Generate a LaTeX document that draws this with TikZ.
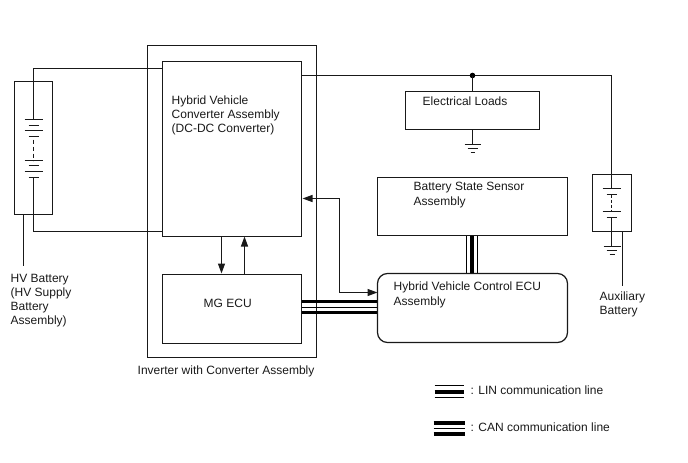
\documentclass[tikz,border=0pt]{standalone}
\usepackage{fontspec}
\setmainfont{Liberation Sans}
\usetikzlibrary{arrows.meta}
\tikzset{
  x=1pt,y=-1pt,
  wire/.style={line width=1.2pt,draw=black!90},
  box/.style={line width=1.2pt,draw=black!90},
  sig/.style={line width=1.2pt,draw=black!90},
  arr/.style={sig,-{Triangle[length=10pt,width=7pt]}},
  biarr/.style={sig,{Triangle[length=10pt,width=7pt]}-{Triangle[length=10pt,width=7pt]}},
  lbl/.style={anchor=base west,inner sep=0pt,font=\fontsize{12pt}{14pt}\selectfont,text=black!90},
  thinl/.style={line width=1.2pt,draw=black},
  thickl/.style={line width=3pt,draw=black},
  widel/.style={line width=4pt,draw=black},
  plate/.style={line width=1.1pt,draw=black!90},
}
\begin{document}
\begin{tikzpicture}
\useasboundingbox (-0.5,-0.5) rectangle (687.5,462.5);
% enclosures
\coordinate (outerA) at (147,45); \coordinate (outerB) at (316,357);
\draw[box] (outerA) rectangle (outerB);
\coordinate (conA) at (162,61); \coordinate (conB) at (301,236);
\coordinate (mgA) at (162,274); \coordinate (mgB) at (301,343);
\coordinate (hvA) at (14,81); \coordinate (hvB) at (52,214);
\coordinate (loadA) at (405,91); \coordinate (loadB) at (539,129);
\coordinate (sensA) at (377,177); \coordinate (sensB) at (567,235);
\coordinate (ecuA) at (377,273); \coordinate (ecuB) at (567,342);
\coordinate (auxA) at (592,174); \coordinate (auxB) at (631,231);

% thick communication bundles
\draw[thickl] (301,301) coordinate (canA) -- (377,301);
\draw[thinl] (301,307) -- (377,307);
\draw[thickl] (301,312) -- (377,312);
\draw[thinl] (466,235) -- (466,273);
\draw[widel] (471.5,235) -- (471.5,273);
\draw[thinl] (477,235) -- (477,273);

\draw[box] (conA) rectangle (conB);
\draw[box] (mgA) rectangle (mgB);
\draw[box] (hvA) rectangle (hvB);
\draw[box] (loadA) rectangle (loadB);
\draw[box] (sensA) rectangle (sensB);
\draw[box,rounded corners=10pt] (ecuA) rectangle (ecuB);
\draw[box] (auxA) rectangle (auxB);

% HV battery wiring and cell stack
\draw[wire] (162,68) -- (33,68) -- (33,119);
\draw[wire] (162,231) -- (33,231) -- (33,177);
\foreach \y in {119,130,160,171} \draw[plate] (24,\y) -- (42,\y);
\foreach \y in {125,136,165,177} \draw[plate] (28,\y) -- (38,\y);
\draw[plate,dash pattern=on 4pt off 3pt] (33,139) -- (33,160);
\draw[wire] (23,214) -- (23,265);

% 12 V bus
\draw[wire] (301,75) -- (611,75) -- (611,188);
\fill[black] (472,75) coordinate (busdot) circle (2.8pt);
\draw[wire] (busdot) -- (472,91);
\draw[wire] (472,129) -- (472,144);
\draw[plate] (464,144) -- (480,144) (467,148) -- (477,148) (470,152) -- (474,152);

% auxiliary battery
\draw[plate] (602,188) -- (620,188) (606,194) -- (616,194);
\draw[plate,dash pattern=on 3pt off 2pt] (611,194) -- (611,211);
\draw[plate] (602,211) -- (620,211) (606,217) -- (616,217);
\draw[wire] (611,217) -- (611,246);
\draw[plate] (603,246) -- (620,246) (606,250) -- (616,250) (609,254) -- (614,254);
\draw[wire] (622,231) -- (622,285);

% signal arrows
\draw[arr] (221,236) -- (221,273);
\draw[arr] (244,273) -- (244,236);
\draw[biarr] (302,198) -- (339,198) -- (339,292) -- (377,292);

% legend samples
\draw[thinl] (434,385) coordinate (linA) -- (463,385);
\draw[widel] (434,391.5) -- (463,391.5);
\draw[thinl] (434,397) -- (463,397);
\draw[widel] (433,422.5) coordinate (canB) -- (464,422.5);
\draw[thinl] (433,428) -- (464,428);
\draw[widel] (433,433.5) -- (464,433.5);

% labels
\node[lbl] (t1) at (171,104) {Hybrid Vehicle};
\node[lbl] (t2) at (171,118) {Converter Assembly};
\node[lbl] (t3) at (171,132) {(DC-DC Converter)};
\node[lbl] (t4) at (203,307) {MG ECU};
\node[lbl] (t5) at (422,105) {Electrical Loads};
\node[lbl] (t6) at (413,190) {Battery State Sensor};
\node[lbl] (t7) at (413,205) {Assembly};
\node[lbl] (t8) at (393,290) {Hybrid Vehicle Control ECU};
\node[lbl] (t9) at (393,305) {Assembly};
\node[lbl] (t10) at (10,282) {HV Battery};
\node[lbl] (t11) at (10,296) {(HV Supply};
\node[lbl] (t12) at (10,310) {Battery};
\node[lbl] (t13) at (10,324) {Assembly)};
\node[lbl] (t14) at (599,300) {Auxiliary};
\node[lbl] (t15) at (599,314) {Battery};
\node[lbl] (t16) at (137,374) {Inverter with Converter Assembly};
\node[lbl] (t17) at (470,394) {: LIN communication line};
\node[lbl] (t18) at (470,431) {: CAN communication line};
\end{tikzpicture}
\end{document}
